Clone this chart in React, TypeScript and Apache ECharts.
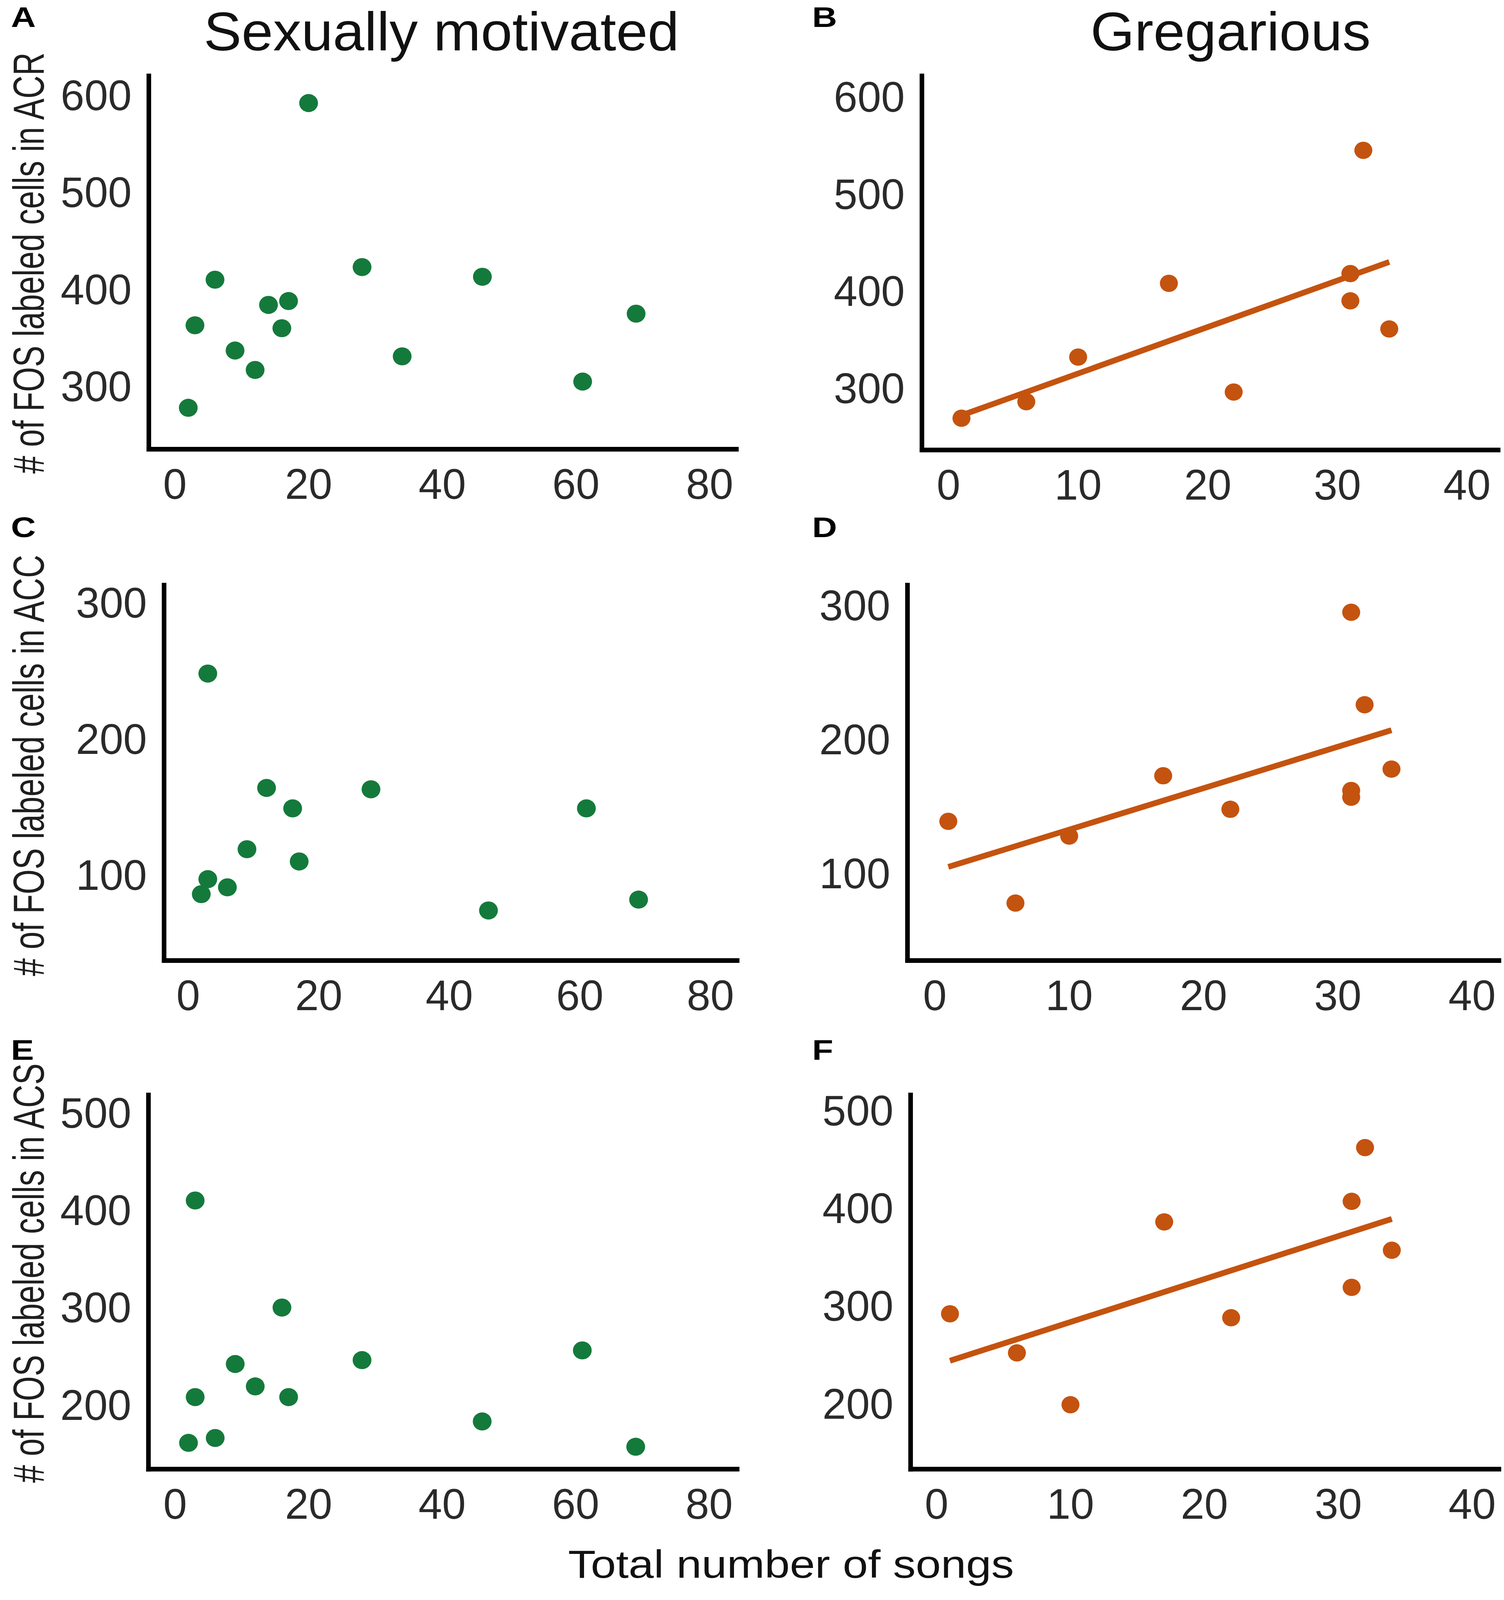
import React, { useEffect, useRef, useState } from "react";
import * as echarts from "echarts";

// ---------------- data ----------------
const xTicksSexual = [0, 20, 40, 60, 80];
const xTicksGregarious = [0, 10, 20, 30, 40];
const yTicksACR = [300, 400, 500, 600];
const yTicksACC = [100, 200, 300];
const yTicksACS = [200, 300, 400, 500];

// A: sexually motivated, ACR
const sexualSongsACR = [2, 3, 6, 9, 12, 14, 16, 17, 20, 28, 34, 46, 61, 69];
const sexualFosACR = [278, 363, 410, 337, 317, 384, 360, 388, 592, 423, 331, 413, 305, 375];
// B: gregarious, ACR
const gregSongsACR = [1, 6, 10, 17, 22, 31, 31, 32, 34];
const gregFosACR = [269, 286, 332, 408, 296, 418, 390, 545, 361];
const gregTrendXACR = [1, 34];
const gregTrendYACR = [272, 430];

// C: sexually motivated, ACC
const sexualSongsACC = [2, 3, 3, 6, 9, 12, 16, 17, 28, 46, 61, 69];
const sexualFosACC = [86, 97, 248, 91, 119, 164, 149, 110, 163, 74, 149, 82];
// D: gregarious, ACC
const gregSongsACC = [1, 6, 10, 17, 22, 31, 31, 31, 32, 34];
const gregFosACC = [139, 78, 128, 173, 148, 295, 162, 157, 226, 178];
const gregTrendXACC = [1, 34];
const gregTrendYACC = [105, 207];

// E: sexually motivated, ACS
const sexualSongsACS = [2, 3, 3, 6, 9, 12, 16, 17, 28, 46, 61, 69];
const sexualFosACS = [161, 208, 410, 166, 242, 219, 300, 208, 246, 183, 256, 157];
// F: gregarious, ACS
const gregSongsACS = [1, 6, 10, 17, 22, 31, 31, 32, 34];
const gregFosACS = [292, 252, 199, 386, 288, 407, 319, 462, 357];
const gregTrendXACS = [1, 34];
const gregTrendYACS = [244, 389];

const columnTitles = ["Sexually motivated", "Gregarious"];
const panelLetters = ["A", "B", "C", "D", "E", "F"];
const yTitles = [
  "# of FOS labeled cells in ACR",
  "# of FOS labeled cells in ACC",
  "# of FOS labeled cells in ACS",
];
const xTitle = "Total number of songs";

// ---------------- styling / layout ----------------
const REF_W = 3850;
const REF_H = 4258;
const FONT = "'Liberation Sans', Arial, Helvetica, sans-serif";
const GREEN = "#147a3b";
const ORANGE = "#c4530f";
const TICK_COLOR = "#2a2a2a";

const zip = (xs: number[], ys: number[]) => xs.map((x, i) => [x, ys[i]]);

type Panel = {
  left: number; top: number; width: number; height: number;
  xMin: number; xMax: number; yMin: number; yMax: number;
  xTicks: number[]; yTicks: number[];
  xs: number[]; ys: number[];
  color: string; size: number;
  trendX?: number[]; trendY?: number[];
};

function buildOption(w: number, h: number) {
  const sx = w / REF_W;
  const sy = h / REF_H;
  const sm = (sx + sy) / 2;
  const X = (v: number) => v * sx;
  const Y = (v: number) => v * sy;
  const F = (v: number) => v * sm;

  const panels: Panel[] = [
    { left: 381, top: 202, width: 1504, height: 993, xMin: -3.9, xMax: 84.0, yMin: 235.5, yMax: 620,
      xTicks: xTicksSexual, yTicks: yTicksACR, xs: sexualSongsACR, ys: sexualFosACR, color: GREEN, size: 48 },
    { left: 2360, top: 202, width: 1475, height: 995, xMin: -2.05, xMax: 42.4, yMin: 236.5, yMax: 621.7,
      xTicks: xTicksGregarious, yTicks: yTicksACR, xs: gregSongsACR, ys: gregFosACR, color: ORANGE, size: 46,
      trendX: gregTrendXACR, trendY: gregTrendYACR },
    { left: 420, top: 1557, width: 1467, height: 999, xMin: -3.7, xMax: 84.1, yMin: 37.3, yMax: 313,
      xTicks: xTicksSexual, yTicks: yTicksACC, xs: sexualSongsACC, ys: sexualFosACC, color: GREEN, size: 48 },
    { left: 2323, top: 1557, width: 1514, height: 999, xMin: -2.04, xMax: 42.0, yMin: 35.2, yMax: 315.3,
      xTicks: xTicksGregarious, yTicks: yTicksACC, xs: gregSongsACC, ys: gregFosACC, color: ORANGE, size: 46,
      trendX: gregTrendXACC, trendY: gregTrendYACC },
    { left: 380, top: 2914, width: 1507, height: 996, xMin: -4.0, xMax: 84.2, yMin: 133.9, yMax: 518.4,
      xTicks: xTicksSexual, yTicks: yTicksACS, xs: sexualSongsACS, ys: sexualFosACS, color: GREEN, size: 48 },
    { left: 2331, top: 2914, width: 1506, height: 996, xMin: -1.94, xMax: 42.0, yMin: 133, yMax: 515.8,
      xTicks: xTicksGregarious, yTicks: yTicksACS, xs: gregSongsACS, ys: gregFosACS, color: ORANGE, size: 46,
      trendX: gregTrendXACS, trendY: gregTrendYACS },
  ];

  const axisLine = { show: true, onZero: false, lineStyle: { color: "#000", width: F(12), cap: "square" } };
  const labelBase = { color: TICK_COLOR, fontSize: F(111), fontFamily: FONT };

  const grid = panels.map((p) => ({
    left: X(p.left), top: Y(p.top), width: X(p.width), height: Y(p.height), containLabel: false,
  }));
  const xAxis = panels.map((p, i) => ({
    type: "value", gridIndex: i, min: p.xMin, max: p.xMax,
    axisLine, axisTick: { show: false }, splitLine: { show: false },
    axisLabel: { ...labelBase, margin: Y(36), customValues: p.xTicks, showMinLabel: true, showMaxLabel: true },
  }));
  const yAxis = panels.map((p, i) => ({
    type: "value", gridIndex: i, min: p.yMin, max: p.yMax,
    axisLine, axisTick: { show: false }, splitLine: { show: false },
    axisLabel: { ...labelBase, margin: X(44), customValues: p.yTicks, showMinLabel: true, showMaxLabel: true },
  }));

  const series: any[] = [];
  panels.forEach((p, i) => {
    if (p.trendX && p.trendY) {
      series.push({
        type: "line", xAxisIndex: i, yAxisIndex: i, data: zip(p.trendX, p.trendY),
        symbol: "none", showSymbol: false, silent: true, z: 2,
        lineStyle: { color: ORANGE, width: F(15), cap: "butt" },
      });
    }
    series.push({
      type: "scatter", xAxisIndex: i, yAxisIndex: i, data: zip(p.xs, p.ys),
      symbol: "circle", symbolSize: [X(p.size), Y(p.size)], z: 3,
      itemStyle: { color: p.color, opacity: 1 },
    });
  });

  const graphic: any[] = [];
  const colTitleX = [1130, 3150];
  columnTitles.forEach((t, i) => {
    graphic.push({
      type: "text", x: X(colTitleX[i]), y: Y(84), scaleX: sx, scaleY: sy,
      style: { text: t, fontSize: 145, fontFamily: FONT, fill: "#111", align: "center", verticalAlign: "middle" },
    });
  });
  const letterPos = [[28, 46], [2079, 46], [28, 1403], [2079, 1403], [28, 2794], [2079, 2794]];
  panelLetters.forEach((t, i) => {
    graphic.push({
      type: "text", x: X(letterPos[i][0]), y: Y(letterPos[i][1]), scaleX: sx * 1.05, scaleY: sy * 0.9,
      style: {
        text: t, font: `bold 84px ${FONT}`, fontSize: 84, fontWeight: "bold", fontFamily: FONT,
        fill: "#000", align: "left", verticalAlign: "middle",
      },
    });
  });
  const yTitleY = [700, 2037, 3388];
  yTitles.forEach((t, i) => {
    graphic.push({
      // rotated: local x runs along the text (vertical on screen), local y across it (horizontal on screen)
      type: "text", x: X(73), y: Y(yTitleY[i]), rotation: Math.PI / 2, scaleX: 0.76 * sy, scaleY: sx,
      style: { text: t, fontSize: 112, fontFamily: FONT, fill: "#1e1e1e", align: "center", verticalAlign: "middle" },
    });
  });
  graphic.push({
    type: "text", x: X(2025), y: Y(4163), scaleX: sx, scaleY: sy * 0.9,
    style: { text: xTitle, fontSize: 116, fontFamily: FONT, fill: "#111", align: "center", verticalAlign: "middle" },
  });

  return {
    animation: false,
    backgroundColor: "#ffffff",
    textStyle: { fontFamily: FONT },
    grid, xAxis, yAxis, series, graphic,
  };
}

export default function App() {
  const ref = useRef<HTMLDivElement>(null);
  const [size] = useState(() => {
    const w = typeof window !== "undefined" && window.innerWidth ? window.innerWidth : REF_W;
    const h = typeof window !== "undefined" && window.innerHeight ? window.innerHeight : REF_H;
    return { w: Math.min(w, REF_W), h: Math.min(h, REF_H) };
  });
  useEffect(() => {
    const el = ref.current;
    if (!el) return;
    const chart = echarts.init(el, null, { renderer: "svg" });
    chart.setOption(buildOption(size.w, size.h) as any);
    return () => {
      chart.dispose();
    };
  }, [size]);
  return (
    <div
      ref={ref}
      style={{ position: "absolute", left: 0, top: 0, width: size.w, height: size.h, background: "#fff" }}
    />
  );
}
